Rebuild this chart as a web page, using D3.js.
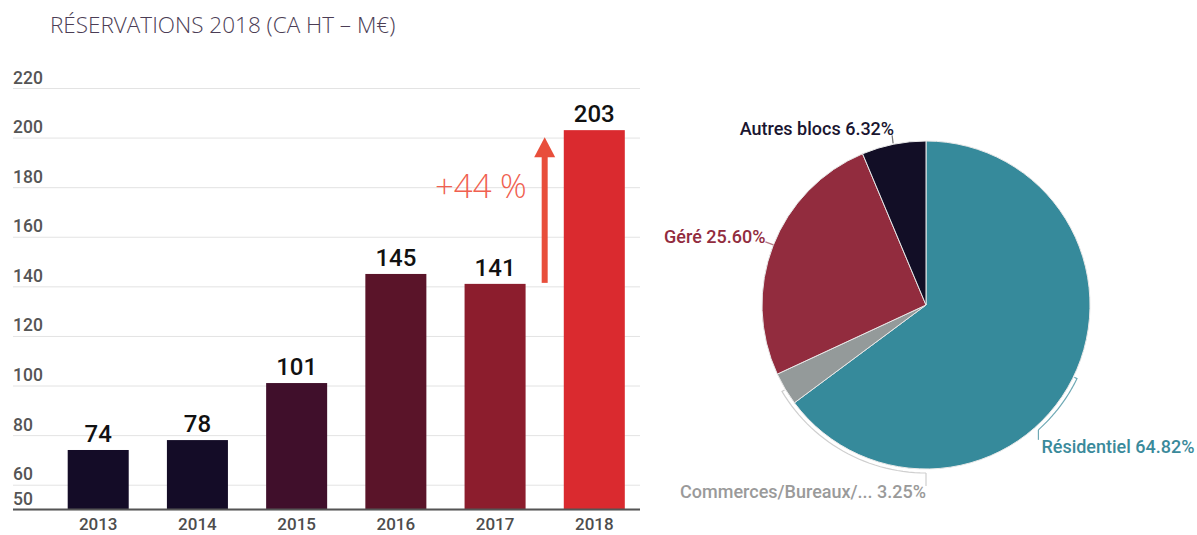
<!DOCTYPE html>
<html><head><meta charset="utf-8">
<script src="https://cdn.jsdelivr.net/npm/d3@7"></script>
<style>
html,body{margin:0;padding:0;background:#fff;}
svg{display:block;font-family:Roboto,"Noto Sans",sans-serif;}
</style></head>
<body>
<svg id="chart" width="1197" height="535"></svg>
<script>
// ---- data ----
const years = ["2013","2014","2015","2016","2017","2018"];
const bookings = [74, 78, 101, 145, 141, 203];
const barColors = ["#140c27","#140c27","#400f2b","#5a1429","#8c1d2d","#da2a2f"];
const yTicks = [50, 60, 80, 100, 120, 140, 160, 180, 200, 220];
const growthLabel = "+44 %";
const title = "RÉSERVATIONS 2018 (CA HT – M€)";

const segments = ["Résidentiel", "Commerces/Bureaux/...", "Géré", "Autres blocs"];
const shares = [64.82, 3.25, 25.60, 6.32];
const segColors = ["#368a9b", "#949a9a", "#922c3e", "#120e26"];
const segLabelColors = ["#3a8a9b", "#9a9a9a", "#922c3e", "#1a1530"];

const svg = d3.select("#chart");

// ---- title ----
svg.append("text").attr("x", 50).attr("y", 33)
  .attr("font-family", "'Open Sans', sans-serif").attr("font-weight", 300)
  .attr("font-size", 22.5).attr("fill", "#4b3d55").text(title);

// ---- bar chart ----
const x = d3.scaleBand().domain(years).range([29.5, 663]).paddingInner(0.385).paddingOuter(0.385);
const y = d3.scaleLinear().domain([50, 220]).range([509.5, 88]);

const yAxis = d3.axisRight(y).tickValues(yTicks).tickSize(627).tickFormat(d3.format("d"));
const gy = svg.append("g").attr("transform", "translate(13,0)").call(yAxis);
gy.select(".domain").remove();
gy.selectAll(".tick line").attr("stroke", "#e3e3e3").attr("stroke-width", 1);
gy.selectAll(".tick text").attr("x", 0).attr("dy", -5).attr("y", 0)
  .attr("text-anchor", "start").attr("font-size", 17.5).attr("font-weight", 500)
  .attr("fill", "#555").attr("font-family", "Roboto, sans-serif");

svg.selectAll("rect.bar").data(bookings).enter().append("rect")
  .attr("class", "bar")
  .attr("x", (d, i) => x(years[i])).attr("width", x.bandwidth())
  .attr("y", d => y(d)).attr("height", d => y(50) - y(d))
  .attr("fill", (d, i) => barColors[i]);

svg.selectAll("text.val").data(bookings).enter().append("text")
  .attr("class", "val")
  .attr("x", (d, i) => x(years[i]) + x.bandwidth() / 2).attr("y", d => y(d) - 8)
  .attr("text-anchor", "middle").attr("font-size", 24).attr("font-weight", 500)
  .attr("fill", "#111").text(d => d);

// baseline axis
const xAxis = d3.axisBottom(x).tickSize(0).tickPadding(0);
const gx = svg.append("g").attr("transform", `translate(0,${y(50)})`).call(xAxis);
gx.select(".domain").remove();
svg.append("line").attr("x1", 13).attr("x2", 640).attr("y1", y(50)).attr("y2", y(50))
  .attr("stroke", "#555").attr("stroke-width", 2);
gx.selectAll(".tick text").attr("font-size", 17).attr("font-weight", 500)
  .attr("fill", "#4d4d4d").attr("font-family", "Roboto, sans-serif")
  .attr("y", 20.5).attr("dy", 0);

// growth arrow between 2017 and 2018
const gap = x.step() - x.bandwidth();
const ax = x("2018") - gap / 2;
const aBottom = y(bookings[4]) - 1;
const aTop = y(bookings[5]) + 7;
const arrowColor = "#e84e3b";
svg.append("line").attr("x1", ax).attr("x2", ax).attr("y1", aBottom).attr("y2", aTop + 18)
  .attr("stroke", arrowColor).attr("stroke-width", 6);
svg.append("path")
  .attr("d", `M${ax - 10.5},${aTop + 20} L${ax},${aTop} L${ax + 10.5},${aTop + 20} Z`)
  .attr("fill", arrowColor);
svg.append("text").attr("x", ax - 18).attr("y", 198).attr("text-anchor", "end")
  .attr("font-family", "'Open Sans', sans-serif")
  .attr("font-size", 33).attr("font-weight", 300).attr("fill", "#f0604f")
  .text(growthLabel);

// ---- pie chart ----
const cx = 926, cy = 305, R = 164;
const pie = d3.pie().sort(null).value(d => d)(shares);
const arc = d3.arc().innerRadius(0).outerRadius(R);
const gp = svg.append("g").attr("transform", `translate(${cx},${cy})`);
gp.selectAll("path").data(pie).enter().append("path")
  .attr("d", arc).attr("fill", (d, i) => segColors[i])
  .attr("stroke", "#e8e8e8").attr("stroke-width", 1);

const deg = Math.PI / 180;
const pt = (a, r) => [r * Math.sin(a * deg), -r * Math.cos(a * deg)];
const radial = d3.lineRadial().angle(d => d[0] * deg).radius(d => d[1]);

function bracket(a0, a1, color, tailLen) {
  const pts = [[a0, R + 1]];
  const n = 30;
  for (let k = 0; k <= n; k++) pts.push([a0 + (a1 - a0) * k / n, R + 4]);
  gp.append("path").attr("d", radial(pts)).attr("fill", "none")
    .attr("stroke", color).attr("stroke-width", 1.2);
  const e = pt(a1, R + 4);
  gp.append("line").attr("x1", e[0]).attr("y1", e[1]).attr("x2", e[0]).attr("y2", e[1] + tailLen)
    .attr("stroke", color).attr("stroke-width", 1.2);
  return [e[0], e[1] + tailLen];
}

const labelFont = 18;
function label(px, py, anchor, i) {
  gp.append("text").attr("x", px).attr("y", py).attr("text-anchor", anchor)
    .attr("font-size", labelFont).attr("font-weight", 500).attr("fill", segLabelColors[i])
    .text(`${segments[i]} ${shares[i].toFixed(2)}%`);
}

// Résidentiel
const rEnd = bracket(116, 138, "#6fa9b5", 10);
label(rEnd[0] + 3, rEnd[1] + 13, "start", 0);
// Commerces
const cEnd = bracket(239, 180, "#cfcfcf", 13);
label(cEnd[0], cEnd[1] + 12, "end", 1);
// Géré
const g0 = pt(291.5, R);
gp.append("line").attr("x1", g0[0]).attr("y1", g0[1]).attr("x2", g0[0] - 8).attr("y2", g0[1] - 3)
  .attr("stroke", "#b57a85").attr("stroke-width", 1.2);
label(g0[0] - 8, g0[1] - 2, "end", 2);
// Autres blocs
const a0p = pt(348.5, R + 1);
gp.append("line").attr("x1", a0p[0]).attr("y1", a0p[1]).attr("x2", a0p[0] - 1).attr("y2", a0p[1] - 8)
  .attr("stroke", "#777").attr("stroke-width", 1.2);
label(a0p[0] + 1, a0p[1] - 8, "end", 3);
</script>
</body></html>
